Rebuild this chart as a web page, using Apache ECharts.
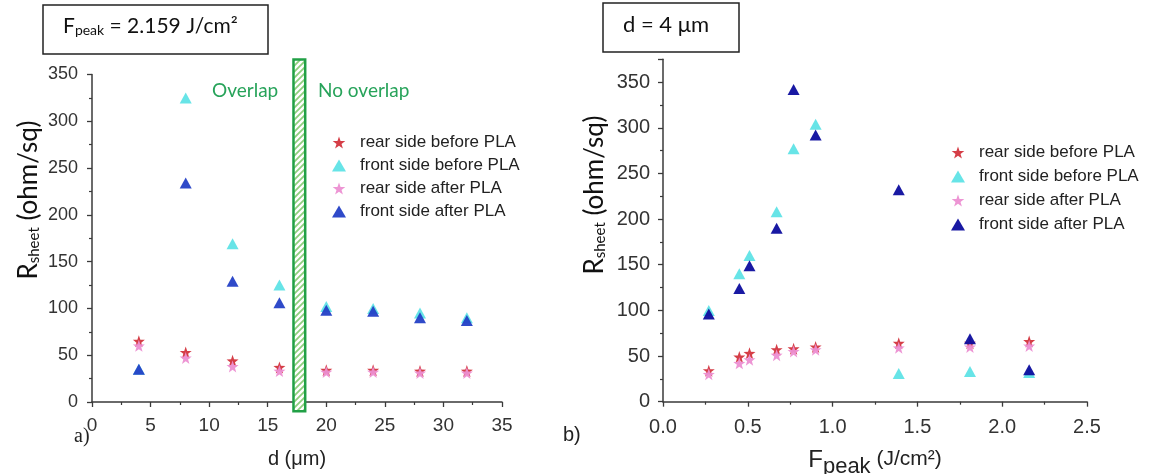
<!DOCTYPE html>
<html><head><meta charset="utf-8">
<script src="https://cdn.jsdelivr.net/npm/echarts@6/dist/echarts.min.js"></script>
<style>html,body{margin:0;padding:0;background:#fff}#c{width:1169px;height:474px}</style>
</head><body><div id="c"></div>
<script>
// ---- data: panel a) ----
var dValues = [4, 8, 12, 16, 20, 24, 28, 32];
var aRearBefore  = [65, 53, 44, 37, 34, 34, 33, 33];
var aFrontBefore = [35, 325, 169, 125, 102, 100, 95, 90];
var aRearAfter   = [60, 47, 38, 33, 32, 32, 31, 31];
var aFrontAfter  = [35, 234, 129, 106, 98, 97, 90, 87];
// ---- data: panel b) ----
var fPeak = [0.27, 0.45, 0.51, 0.67, 0.77, 0.90, 1.39, 1.81, 2.159];
var bRearBefore  = [34, 49, 53, 57, 58, 60, 64, 64, 66];
var bFrontBefore = [100, 140, 160, 208, 277, 304, 31, 33, 32];
var bRearAfter   = [30, 42, 46, 51, 55, 57, 59, 60, 61];
var bFrontAfter  = [96, 124, 149, 190, 342, 292, 232, 69, 35];
var seriesNames = ['rear side before PLA', 'front side before PLA', 'rear side after PLA', 'front side after PLA'];
var overlapBand = [17.2, 18.2];

var SANS = 'Arial, "Liberation Sans", sans-serif';
var STAR = 'path://M50 0 L61.76 33.82 L97.55 34.55 L69.02 56.18 L79.39 90.45 L50 70 L20.61 90.45 L30.98 56.18 L2.45 34.55 L38.24 33.82 Z';
var colRed = '#d3343d', colCyan = '#5fe3e6', colPink = '#ec8fd2', colBlueA = '#2440c6', colBlueB = '#0d0d9e';
var sym = [STAR, 'triangle', STAR, 'triangle'];

function zip(xs, ys) { return xs.map(function (x, i) { return [x, ys[i]]; }); }

var chart = echarts.init(document.getElementById('c'));
var axisCol = '#3a3a3a';
function xAx(idx, min, max, interval, fs, margin, name, nameGap) {
  return {
    type: 'value', gridIndex: idx, min: min, max: max, interval: interval,
    axisLine: { show: true, onZero: false, lineStyle: { color: axisCol, width: 1.5 } },
    axisTick: { show: true, inside: false, length: 5, lineStyle: { color: axisCol, width: 1.3 } },
    minorTick: { show: true, splitNumber: 2, length: 3, lineStyle: { color: axisCol, width: 1.2 } },
    splitLine: { show: false },
    axisLabel: { fontFamily: SANS, fontSize: fs, color: '#333', margin: margin,
      formatter: function (v) { return interval < 1 ? v.toFixed(1) : String(v); } },
    name: name, nameLocation: 'middle', nameGap: nameGap,
    nameTextStyle: { fontFamily: SANS, fontSize: 20, color: '#222' }
  };
}
function yAx(idx, max, fs, margin) {
  return {
    type: 'value', gridIndex: idx, min: 0, max: max, interval: 50,
    axisLine: { show: true, onZero: false, lineStyle: { color: axisCol, width: 1.5 } },
    axisTick: { show: true, inside: false, length: 5, lineStyle: { color: axisCol, width: 1.3 } },
    minorTick: { show: true, splitNumber: 2, length: 3, lineStyle: { color: axisCol, width: 1.2 } },
    splitLine: { show: false },
    axisLabel: { fontFamily: SANS, fontSize: fs, color: '#333', margin: margin, showMaxLabel: max % 50 === 0 }
  };
}
function mkSeries(idx, xs, ys, k, blue) {
  var cols = [colRed, colCyan, colPink, blue];
  return {
    type: 'scatter', name: seriesNames[k], xAxisIndex: idx, yAxisIndex: idx,
    data: zip(xs, ys), symbol: sym[k], symbolSize: k % 2 ? [12, 11] : 12,
    itemStyle: { color: cols[k], opacity: 0.95 }, z: 2 + k, silent: true
  };
}
function legendData(blue) {
  var cols = [colRed, colCyan, colPink, blue];
  return seriesNames.map(function (n, k) { return { name: n, icon: sym[k], itemStyle: { color: cols[k] } }; });
}
var legendText = { fontFamily: SANS, fontSize: 17, color: '#222', lineHeight: 17, padding: [0, 0, 0, 9] };

var option = {
  animation: false,
  backgroundColor: '#fff',
  grid: [
    { left: 92, top: 74.5, width: 410, height: 332.5 },
    { left: 663, top: 59.3, width: 424, height: 342.4 }
  ],
  xAxis: [
    xAx(0, 0, 35, 5, 19, 14, 'd (μm)', 47),
    xAx(1, 0, 2.5, 0.5, 20, 16, '', 40)
  ],
  yAxis: [ yAx(0, 350, 18, 14), yAx(1, 375, 20, 13) ],
  legend: [
    { data: legendData(colBlueA), orient: 'vertical', left: 327, top: 129, itemWidth: 14, itemHeight: 12,
      itemGap: 6, selectedMode: false, textStyle: legendText },
    { data: legendData(colBlueB), orient: 'vertical', left: 946, top: 139, itemWidth: 14, itemHeight: 12,
      itemGap: 7, selectedMode: false, textStyle: legendText }
  ],
  series: [
    mkSeries(0, dValues, aRearBefore, 0, colBlueA),
    mkSeries(0, dValues, aFrontBefore, 1, colBlueA),
    mkSeries(0, dValues, aRearAfter, 2, colBlueA),
    mkSeries(0, dValues, aFrontAfter, 3, colBlueA),
    mkSeries(1, fPeak, bRearBefore, 0, colBlueB),
    mkSeries(1, fPeak, bFrontBefore, 1, colBlueB),
    mkSeries(1, fPeak, bRearAfter, 2, colBlueB),
    mkSeries(1, fPeak, bFrontAfter, 3, colBlueB)
  ]
};
chart.setOption(option);

// hatch pattern
var pc = document.createElement('canvas');
pc.width = 6; pc.height = 6;
var g = pc.getContext('2d');
g.fillStyle = '#ffffff'; g.fillRect(0, 0, 6, 6);
g.strokeStyle = '#8fcf7e'; g.lineWidth = 1.8;
g.beginPath(); g.moveTo(-1, 7); g.lineTo(7, -1); g.moveTo(-1, 1); g.lineTo(1, -1); g.moveTo(5, 7); g.lineTo(7, 5); g.stroke();

var bx0 = chart.convertToPixel({ xAxisIndex: 0 }, overlapBand[0]);
var bx1 = chart.convertToPixel({ xAxisIndex: 0 }, overlapBand[1]);
var by0 = chart.convertToPixel({ yAxisIndex: 0 }, 366);
var by1 = chart.convertToPixel({ yAxisIndex: 0 }, -10);
var green = '#27a35a';
var rsheetRich = {
  a: { fontFamily: 'Lato', fontSize: 26, fill: '#111', lineHeight: 30, verticalAlign: 'bottom' },
  b: { fontFamily: 'Lato', fontSize: 15, fill: '#111', lineHeight: 17, verticalAlign: 'bottom' }
};

// F_peak x-axis name pieces, measured so they sit side by side centred under the axis
var mc = document.createElement('canvas').getContext('2d');
function tw(t, fs) { mc.font = fs + 'px Arial, "Liberation Sans", sans-serif'; return mc.measureText(t).width; }
var pieces = [['F', 24, 0], ['peak', 22, 6], [' (J/cm²)', 21, -1]];
var totalW = pieces.reduce(function (s, p) { return s + tw(p[0], p[1]); }, 0);
var axisMid = (chart.convertToPixel({ xAxisIndex: 1 }, 0) + chart.convertToPixel({ xAxisIndex: 1 }, 2.5)) / 2;
var nameBaseY = chart.convertToPixel({ yAxisIndex: 1 }, 0) + 59;
var cx = axisMid - totalW / 2;
var nameEls = pieces.map(function (p) {
  var el = { type: 'text', x: cx, y: nameBaseY + p[2], z: 21,
    style: { text: p[0], fontFamily: SANS, fontSize: p[1], fill: '#222', align: 'left', verticalAlign: 'middle' } };
  cx += tw(p[0], p[1]);
  return el;
});

chart.setOption({
  graphic: [
    { type: 'rect', shape: { x: bx0, y: by0, width: bx1 - bx0, height: by1 - by0 },
      style: { fill: { image: pc, repeat: 'repeat' }, stroke: '#21a046', lineWidth: 2.5 }, z: 20 },
    { type: 'text', left: 212, top: 81, style: { text: 'Overlap', fontFamily: 'Lato', fontSize: 19, fill: green } , z: 20},
    { type: 'text', left: 318, top: 81, style: { text: 'No overlap', fontFamily: 'Lato', fontSize: 19, fill: green }, z: 20 },
    { type: 'rect', shape: { x: 43, y: 5, width: 225, height: 49 }, style: { fill: '#fff', stroke: '#222', lineWidth: 1.5 }, z: 20 },
    { type: 'text', left: 63, top: 16, z: 21, style: { text: '{a|F}{b|peak}{a| = 2.159 J/cm²}', rich: {
      a: { fontFamily: 'Lato', fontSize: 21, fill: '#111', lineHeight: 26, verticalAlign: 'bottom' },
      b: { fontFamily: 'Lato', fontSize: 14, fill: '#111', lineHeight: 15, verticalAlign: 'bottom' } } } },
    { type: 'rect', shape: { x: 603, y: 3, width: 136, height: 49 }, style: { fill: '#fff', stroke: '#222', lineWidth: 1.5 }, z: 20 },
    { type: 'text', left: 623, top: 14, z: 21, style: { text: 'd = 4 μm', fontFamily: 'Lato', fontSize: 22, fill: '#111' } },
    { type: 'text', x: 27, y: 200, rotation: Math.PI / 2, z: 21,
      style: { text: '{a|R}{b|sheet}{a| (ohm/sq)}', rich: rsheetRich, align: 'center', verticalAlign: 'middle' } },
    { type: 'text', x: 593, y: 195, rotation: Math.PI / 2, z: 21,
      style: { text: '{a|R}{b|sheet}{a| (ohm/sq)}', rich: rsheetRich, align: 'center', verticalAlign: 'middle' } },
    { type: 'text', left: 74, top: 427, style: { text: 'a)', fontFamily: 'Liberation Serif', fontSize: 20, fill: '#222' } },
    { type: 'text', left: 563, top: 425, style: { text: 'b)', fontFamily: SANS, fontSize: 20, fill: '#222' } }
  ].concat(nameEls)
});
</script></body></html>
